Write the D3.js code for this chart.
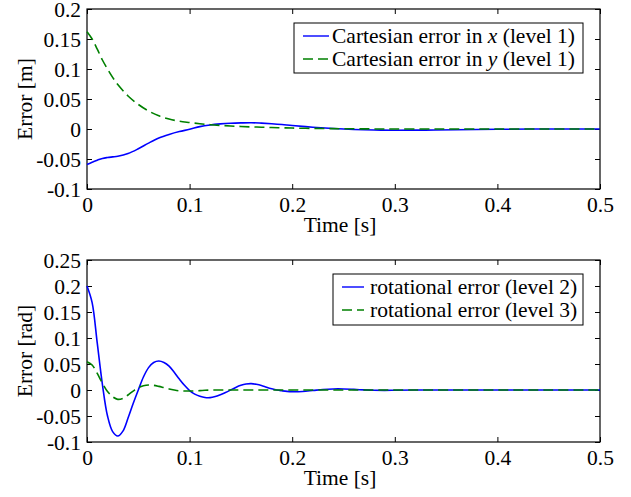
<!DOCTYPE html>
<html>
<head>
<meta charset="utf-8">
<script src="https://cdn.jsdelivr.net/npm/d3@7"></script>
<style>
  body { margin: 0; background: #fff; }
  svg { display: block; }
  svg text { font-family: "Liberation Serif", "Times New Roman", Times, "DejaVu Serif", serif; }
</style>
</head>
<body>
<svg id="chart" width="631" height="497"></svg>
<script>
// --- top panel: cartesian errors (level 1) ---
const timeTop = [0, 0.005, 0.01, 0.015, 0.02, 0.025, 0.03, 0.04, 0.05, 0.06, 0.07, 0.08, 0.09, 0.1,
    0.11, 0.12, 0.13, 0.14, 0.15, 0.16, 0.17, 0.18, 0.19, 0.2, 0.22, 0.24, 0.26, 0.28, 0.3, 0.33,
    0.36, 0.4, 0.45, 0.5]
const cartErrX = [-0.059, -0.0555, -0.052, -0.049, -0.0475, -0.0465, -0.0455, -0.041, -0.033, -0.0235,
    -0.015, -0.009, -0.0042, -0.0005, 0.004, 0.0068, 0.0085, 0.0096, 0.0102, 0.0105, 0.0098, 0.0088,
    0.0075, 0.0058, 0.003, 0.0008, -0.0008, -0.0017, -0.002, -0.0018, -0.0012, -0.0005, 0, 0]
const cartErrY = [0.162, 0.15, 0.133, 0.115, 0.1, 0.086, 0.074, 0.055, 0.041, 0.03, 0.022, 0.0165,
    0.013, 0.0108, 0.0088, 0.0072, 0.006, 0.005, 0.0042, 0.0035, 0.003, 0.0024, 0.002, 0.0016, 0.001,
    0.0006, 0.0003, 0.0001, 0, 0, 0, 0, 0, 0]

// --- bottom panel: rotational errors (levels 2 and 3) ---
const timeBottom = [0, 0.005, 0.01, 0.015, 0.02, 0.025, 0.03, 0.035, 0.04, 0.045, 0.05, 0.055, 0.06,
    0.065, 0.07, 0.075, 0.08, 0.085, 0.09, 0.095, 0.1, 0.105, 0.11, 0.115, 0.12, 0.125, 0.13, 0.135,
    0.14, 0.145, 0.15, 0.155, 0.16, 0.165, 0.17, 0.175, 0.18, 0.185, 0.19, 0.195, 0.2, 0.21, 0.22,
    0.23, 0.24, 0.25, 0.26, 0.27, 0.28, 0.29, 0.3, 0.32, 0.35, 0.4, 0.45, 0.5]
const rotErrL2 = [0.2, 0.168, 0.09, 0.011, -0.05, -0.08, -0.0885, -0.079, -0.054, -0.026, 0.0, 0.025,
    0.043, 0.053, 0.0558, 0.053, 0.046, 0.034, 0.021, 0.009, -0.001, -0.008, -0.012, -0.0145, -0.0147,
    -0.0125, -0.009, -0.005, 0, 0.005, 0.009, 0.0115, 0.0122, 0.011, 0.0088, 0.0055, 0.0025, 0,
    -0.0015, -0.0027, -0.0032, -0.0028, -0.001, 0.001, 0.002, 0.002, 0.0012, 0.0002, -0.0005, -0.0007,
    -0.0005, 0, 0, 0, 0, 0]
const rotErrL3 = [0.0545, 0.048, 0.032, 0.013, -0.003, -0.013, -0.018, -0.016, -0.0096, -0.002, 0.0045,
    0.008, 0.0096, 0.009, 0.007, 0.0045, 0.002, 0, -0.0015, -0.002, -0.002, -0.0017, -0.0012, -0.0006,
    -0.0002, 0, 0, 0, 0, 0, 0, 0, 0, 0, 0, 0, 0, 0, 0, 0, 0, 0, 0, 0, 0, 0, 0, 0, 0, 0, 0, 0, 0, 0, 0, 0]

const xDomain = [0, 0.5]
const svg = d3.select('#chart')
const fmt = d => String(+d.toFixed(2))
const serif = '"Liberation Serif", "Times New Roman", Times, "DejaVu Serif", serif'
const fontSize = 21.5

function drawPanel (cfg) {
    const x = d3.scaleLinear().domain(xDomain).range([87, 600])
    const y = d3.scaleLinear().domain(cfg.yDomain).range([cfg.bottom, cfg.top])
    const g = svg.append('g')

    const styleAxis = sel => {
        sel.attr('font-family', serif).attr('font-size', fontSize)
        sel.select('.domain').remove()
        sel.selectAll('.tick line').attr('stroke', '#000')
        sel.selectAll('text').attr('fill', '#000')
    }

    g.append('g').attr('transform', `translate(0,${cfg.bottom})`)
        .call(d3.axisBottom(x).ticks(5).tickSize(-5).tickPadding(8).tickFormat(fmt))
        .call(styleAxis)
    g.append('g').attr('transform', `translate(0,${cfg.top})`)
        .call(d3.axisTop(x).ticks(5).tickSize(-5).tickFormat(''))
        .call(styleAxis)
    g.append('g').attr('transform', 'translate(87,0)')
        .call(d3.axisLeft(y).ticks(7).tickSize(-5).tickPadding(6).tickFormat(fmt))
        .call(styleAxis)
        .call(sel => sel.selectAll('text').attr('dy', '0.37em'))
    g.append('g').attr('transform', 'translate(600,0)')
        .call(d3.axisRight(y).ticks(7).tickSize(-5).tickFormat(''))
        .call(styleAxis)

    g.append('rect')
        .attr('x', 87).attr('y', cfg.top)
        .attr('width', 513).attr('height', cfg.bottom - cfg.top)
        .attr('fill', 'none').attr('stroke', '#000').attr('stroke-width', 1.2)

    const line = d3.line()
        .x(d => x(d[0]))
        .y(d => y(d[1]))
        .curve(d3.curveCatmullRom.alpha(0.5))

    cfg.series.forEach(s => {
        g.append('path')
            .datum(cfg.time.map((t, i) => [t, s.values[i]]))
            .attr('d', line)
            .attr('fill', 'none')
            .attr('stroke', s.color)
            .attr('stroke-width', 1.6)
            .attr('stroke-dasharray', s.dash)
    })

    // legend
    const lg = cfg.legend
    g.append('rect')
        .attr('x', lg.x).attr('y', lg.y).attr('width', lg.w).attr('height', lg.h)
        .attr('fill', '#fff').attr('stroke', '#000').attr('stroke-width', 1)
    cfg.series.forEach((s, i) => {
        const cy = lg.y + 13 + i * 23
        g.append('line')
            .attr('x1', lg.x + 9).attr('x2', lg.x + 9 + lg.lineLen)
            .attr('y1', cy).attr('y2', cy)
            .attr('stroke', s.color).attr('stroke-width', 1.4)
            .attr('stroke-dasharray', s.dash)
        const txt = g.append('text')
            .attr('x', lg.x + lg.textOff).attr('y', cy + 7)
            .attr('font-family', serif)
            .attr('font-size', fontSize)
        s.label.forEach(part => {
            txt.append('tspan')
                .attr('font-style', part.italic ? 'italic' : null)
                .text(part.text)
        })
    })

    g.append('text')
        .attr('x', 340).attr('y', cfg.bottom + 43)
        .attr('text-anchor', 'middle')
        .attr('font-family', serif).attr('font-size', fontSize)
        .text('Time [s]')
    g.append('text')
        .attr('transform', `translate(32,${(cfg.top + cfg.bottom) / 2}) rotate(-90)`)
        .attr('text-anchor', 'middle')
        .attr('font-family', serif).attr('font-size', fontSize)
        .text(cfg.yLabel)
}

drawPanel({
    top: 9,
    bottom: 189,
    yDomain: [-0.1, 0.2],
    yLabel: 'Error [m]',
    time: timeTop,
    series: [
        { values: cartErrX, color: '#0000ff', dash: null,
            label: [{ text: 'Cartesian error in ' }, { text: 'x', italic: true }, { text: ' (level 1)' }] },
        { values: cartErrY, color: '#008000', dash: '10,5',
            label: [{ text: 'Cartesian error in ' }, { text: 'y', italic: true }, { text: ' (level 1)' }] }
    ],
    legend: { x: 294, y: 23, w: 289, h: 50, lineLen: 26, textOff: 38 }
})

drawPanel({
    top: 260,
    bottom: 442,
    yDomain: [-0.1, 0.25],
    yLabel: 'Error [rad]',
    time: timeBottom,
    series: [
        { values: rotErrL2, color: '#0000ff', dash: null,
            label: [{ text: 'rotational error (level 2)' }] },
        { values: rotErrL3, color: '#008000', dash: '10,5',
            label: [{ text: 'rotational error (level 3)' }] }
    ],
    legend: { x: 333, y: 274, w: 250, h: 51, lineLen: 22, textOff: 37 }
})
</script>
</body>
</html>
